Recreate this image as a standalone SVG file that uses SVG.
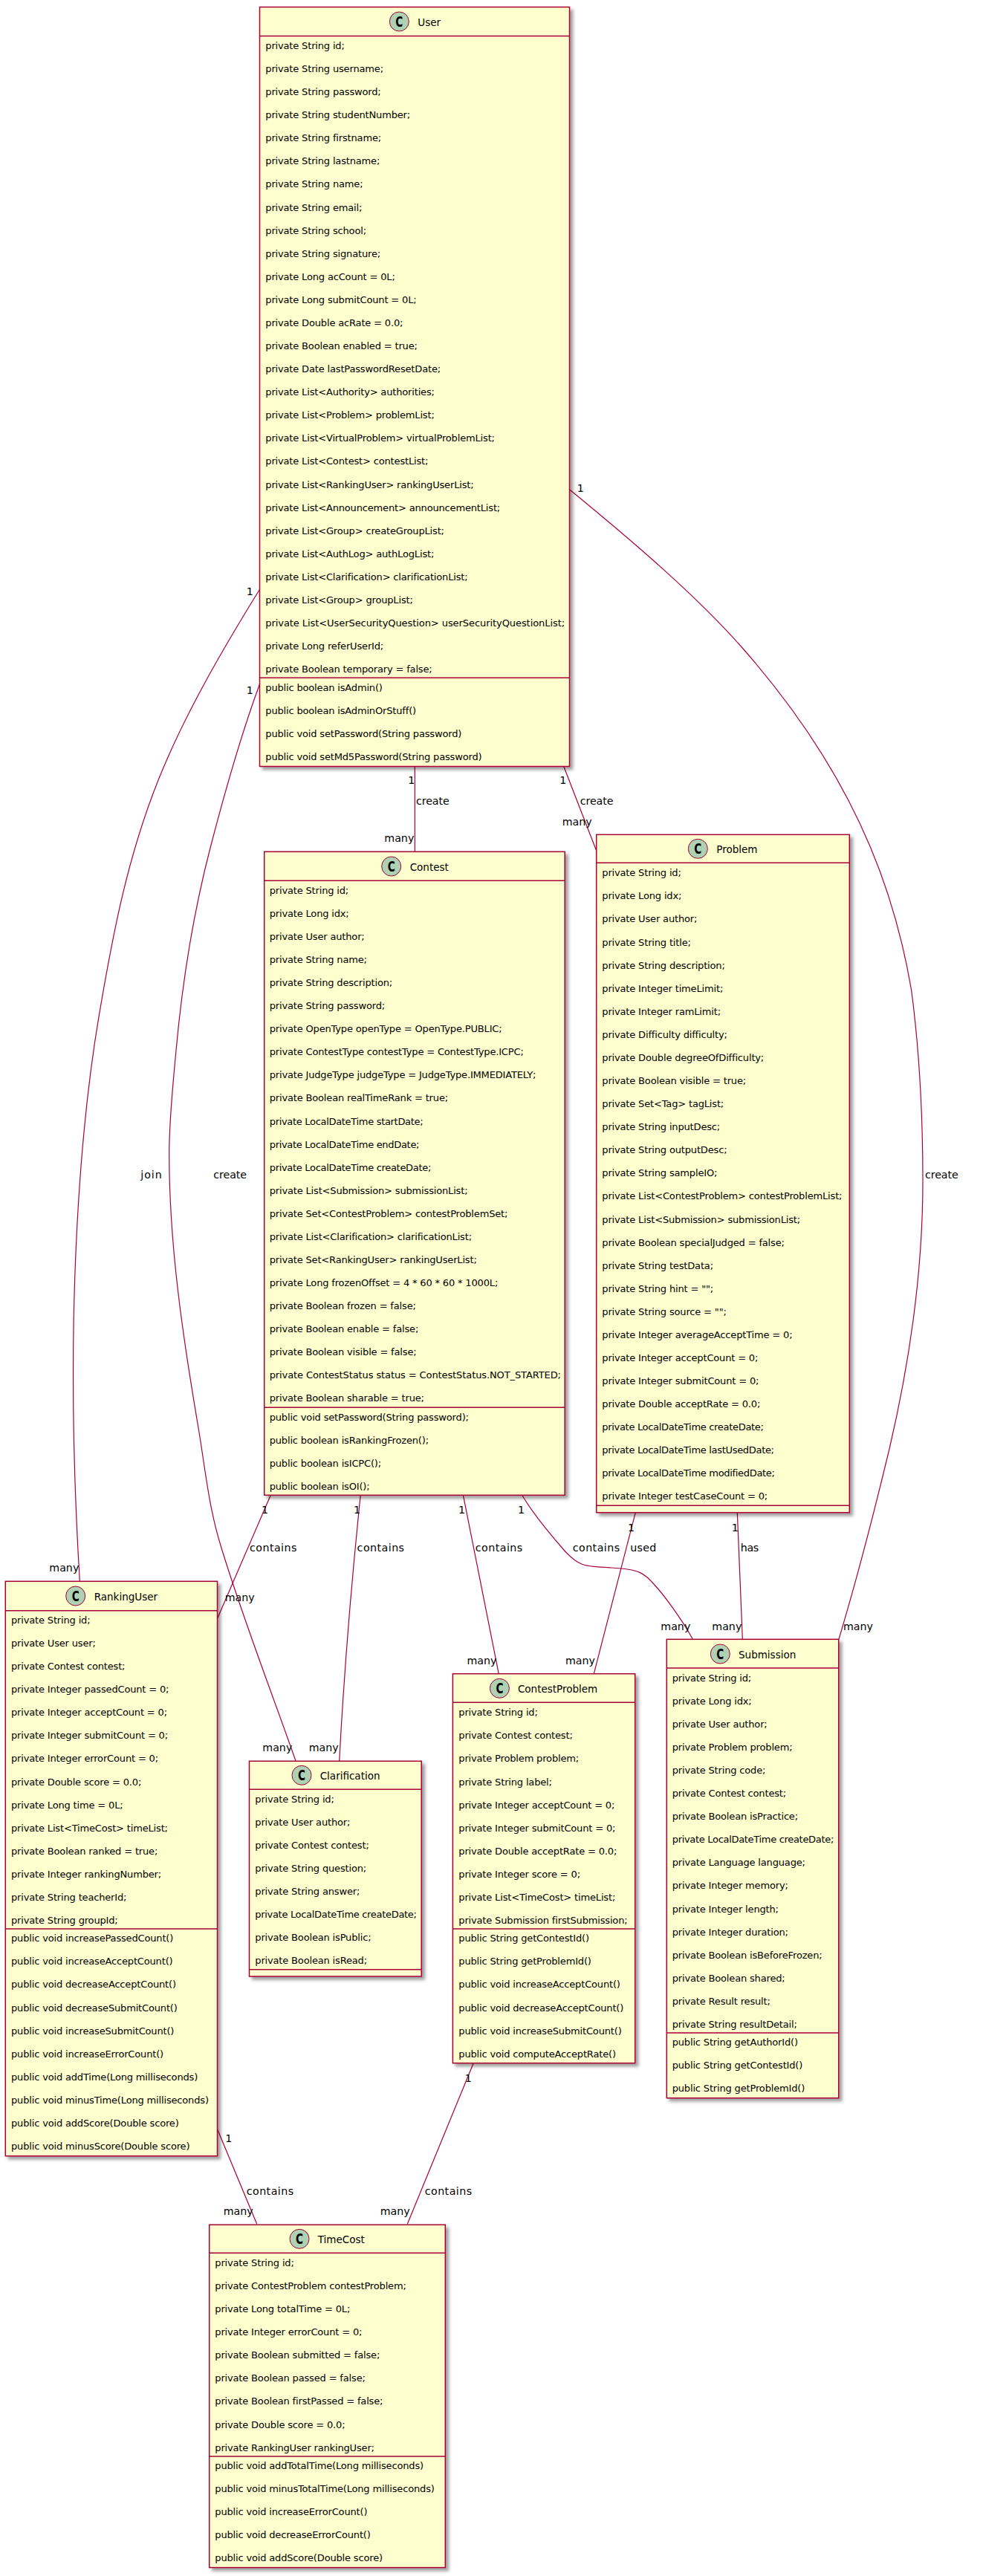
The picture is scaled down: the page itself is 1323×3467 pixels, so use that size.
<svg xmlns="http://www.w3.org/2000/svg" width="1323" height="3467" viewBox="0 0 1323 3467">
<defs>
<filter id="sh" x="-5%" y="-5%" width="115%" height="115%"><feDropShadow dx="4" dy="4" stdDeviation="2" flood-color="#000" flood-opacity="0.38"/></filter>
</defs>
<style>
text{font-family:"DejaVu Sans",sans-serif;fill:#000}
.box{fill:#FEFECE;stroke:#A80036;stroke-width:1.5;filter:url(#sh)}
.sep{stroke:#A80036;stroke-width:1.5;fill:none}
.ci{fill:#ADD1B2;stroke:#A80036;stroke-width:1}
.cl{font-weight:bold;font-size:20px}
.t{font-size:13.5px}
.m{font-size:13px;letter-spacing:-0.16px}
.d{letter-spacing:-0.31px}
.l{font-size:14.2px}
#connectors path{fill:none;stroke:#A80036;stroke-width:1.2}
</style>
<rect width="1323" height="3467" fill="#fff"/>
<g id="connectors">
<path d="M349.5,793.3 C296.5,879 247.2,964.5 213,1050 C170.8,1155.6 151.2,1261.1 133.3,1366.7 C113.3,1484.5 104.8,1602.2 100.7,1720 C95.9,1856 99.1,1992 107.3,2128"/>
<path d="M349.5,920.7 C322.5,993.8 302.3,1066.9 283.3,1140 C259.3,1232.2 245,1324.5 236.7,1416.7 C232.6,1462.1 227.7,1507.6 227.7,1553 C227.7,1675.3 245.9,1797.7 266.7,1920 C275.8,1973.3 280.5,2026.7 297,2080 C326,2176 364.4,2274 398,2370"/>
<path d="M558.3,1031.5 L558.3,1146.3"/>
<path d="M758.7,1031.5 L802.7,1145"/>
<path d="M767,659.3 C853.9,730.5 937.3,801.8 1000,873 C1078.3,962 1134,1051 1171.4,1140 C1198.4,1204.3 1215.8,1268.7 1226.7,1333 C1238,1418.7 1242,1504.3 1242,1590 C1242,1710 1225,1830 1197,1950 C1176.5,2035.3 1154.6,2120.7 1129,2206"/>
<path d="M364.3,2012.3 L292.7,2178"/>
<path d="M485.2,2012.3 C473,2130 462,2270 456.7,2370"/>
<path d="M623.4,2012.3 L671.2,2252.7"/>
<path d="M702.6,2012.3 C716,2035 738,2062 758,2085 S785,2108 823,2110 S866,2117 880,2132 S918,2180 932.3,2206"/>
<path d="M855.3,2035.7 L799.3,2252.7"/>
<path d="M992.3,2035.7 L999.3,2206"/>
<path d="M292.7,2866 L345.7,2993.3"/>
<path d="M637.2,2776.7 L548.3,2993.3"/>
</g>
<g id="User">
<rect class="box" x="349.5" y="9.5" width="417" height="1022"/>
<path class="sep" d="M349.5,48.5H766.5M349.5,912.3H766.5"/>
<circle class="ci" cx="537.3" cy="29" r="13"/>
<text class="cl" x="532.3" y="36" textLength="10" lengthAdjust="spacingAndGlyphs">C</text>
<text class="t" x="562.3" y="34.7">User</text>
<text class="m" y="66"><tspan x="357.3">private String id;</tspan><tspan x="357.3" dy="31.08">private String username;</tspan><tspan x="357.3" dy="31.08">private String password;</tspan><tspan x="357.3" dy="31.08">private String studentNumber;</tspan><tspan x="357.3" dy="31.08">private String firstname;</tspan><tspan x="357.3" dy="31.08">private String lastname;</tspan><tspan x="357.3" dy="31.08">private String name;</tspan><tspan x="357.3" dy="31.08">private String email;</tspan><tspan x="357.3" dy="31.08">private String school;</tspan><tspan x="357.3" dy="31.08">private String signature;</tspan><tspan x="357.3" dy="31.08">private Long acCount = 0L;</tspan><tspan x="357.3" dy="31.08">private Long submitCount = 0L;</tspan><tspan x="357.3" dy="31.08">private Double acRate = 0.0;</tspan><tspan x="357.3" dy="31.08">private Boolean enabled = true;</tspan><tspan x="357.3" dy="31.08">private Date lastPasswordResetDate;</tspan><tspan x="357.3" dy="31.08">private List&lt;Authority&gt; authorities;</tspan><tspan x="357.3" dy="31.08">private List&lt;Problem&gt; problemList;</tspan><tspan x="357.3" dy="31.08">private List&lt;VirtualProblem&gt; virtualProblemList;</tspan><tspan x="357.3" dy="31.08">private List&lt;Contest&gt; contestList;</tspan><tspan x="357.3" dy="31.08">private List&lt;RankingUser&gt; rankingUserList;</tspan><tspan x="357.3" dy="31.08">private List&lt;Announcement&gt; announcementList;</tspan><tspan x="357.3" dy="31.08">private List&lt;Group&gt; createGroupList;</tspan><tspan x="357.3" dy="31.08">private List&lt;AuthLog&gt; authLogList;</tspan><tspan x="357.3" dy="31.08">private List&lt;Clarification&gt; clarificationList;</tspan><tspan x="357.3" dy="31.08">private List&lt;Group&gt; groupList;</tspan><tspan x="357.3" dy="31.08" style="letter-spacing:-0.07px">private List&lt;UserSecurityQuestion&gt; userSecurityQuestionList;</tspan><tspan x="357.3" dy="31.08">private Long referUserId;</tspan><tspan x="357.3" dy="31.08">private Boolean temporary = false;</tspan></text>
<text class="m" y="930"><tspan x="357.3">public boolean isAdmin()</tspan><tspan x="357.3" dy="31.08">public boolean isAdminOrStuff()</tspan><tspan x="357.3" dy="31.08">public void setPassword(String password)</tspan><tspan x="357.3" dy="31.08">public void setMd5Password(String password)</tspan></text>
</g>
<g id="Contest">
<rect class="box" x="355.7" y="1146.3" width="404.5" height="866"/>
<path class="sep" d="M355.7,1185.3H760.2M355.7,1894.3H760.2"/>
<circle class="ci" cx="526.7" cy="1166" r="13"/>
<text class="cl" x="521.7" y="1173" textLength="10" lengthAdjust="spacingAndGlyphs">C</text>
<text class="t" x="551.7" y="1171.7">Contest</text>
<text class="m" y="1202.7"><tspan x="362.7">private String id;</tspan><tspan x="362.7" dy="31.08">private Long idx;</tspan><tspan x="362.7" dy="31.08">private User author;</tspan><tspan x="362.7" dy="31.08">private String name;</tspan><tspan x="362.7" dy="31.08">private String description;</tspan><tspan x="362.7" dy="31.08">private String password;</tspan><tspan x="362.7" dy="31.08">private OpenType openType = OpenType.PUBLIC;</tspan><tspan x="362.7" dy="31.08">private ContestType contestType = ContestType.ICPC;</tspan><tspan x="362.7" dy="31.08">private JudgeType judgeType = JudgeType.IMMEDIATELY;</tspan><tspan x="362.7" dy="31.08">private Boolean realTimeRank = true;</tspan><tspan class="d" x="362.7" dy="31.08">private LocalDateTime startDate;</tspan><tspan class="d" x="362.7" dy="31.08">private LocalDateTime endDate;</tspan><tspan class="d" x="362.7" dy="31.08">private LocalDateTime createDate;</tspan><tspan x="362.7" dy="31.08">private List&lt;Submission&gt; submissionList;</tspan><tspan x="362.7" dy="31.08">private Set&lt;ContestProblem&gt; contestProblemSet;</tspan><tspan x="362.7" dy="31.08">private List&lt;Clarification&gt; clarificationList;</tspan><tspan x="362.7" dy="31.08">private Set&lt;RankingUser&gt; rankingUserList;</tspan><tspan x="362.7" dy="31.08">private Long frozenOffset = 4 * 60 * 60 * 1000L;</tspan><tspan x="362.7" dy="31.08">private Boolean frozen = false;</tspan><tspan x="362.7" dy="31.08">private Boolean enable = false;</tspan><tspan x="362.7" dy="31.08">private Boolean visible = false;</tspan><tspan x="362.7" dy="31.08" style="letter-spacing:-0.1px">private ContestStatus status = ContestStatus.NOT_STARTED;</tspan><tspan x="362.7" dy="31.08">private Boolean sharable = true;</tspan></text>
<text class="m" y="1911.7"><tspan x="362.7">public void setPassword(String password);</tspan><tspan x="362.7" dy="31.08">public boolean isRankingFrozen();</tspan><tspan x="362.7" dy="31.08">public boolean isICPC();</tspan><tspan x="362.7" dy="31.08">public boolean isOI();</tspan></text>
</g>
<g id="Problem">
<rect class="box" x="802.7" y="1123.3" width="340.6" height="912.4"/>
<path class="sep" d="M802.7,1161.3H1143.3M802.7,2026.3H1143.3"/>
<circle class="ci" cx="939.3" cy="1142.3" r="13"/>
<text class="cl" x="934.3" y="1149.3" textLength="10" lengthAdjust="spacingAndGlyphs">C</text>
<text class="t" x="964.3" y="1148.3">Problem</text>
<text class="m" y="1179.3"><tspan x="810.3">private String id;</tspan><tspan x="810.3" dy="31.08">private Long idx;</tspan><tspan x="810.3" dy="31.08">private User author;</tspan><tspan x="810.3" dy="31.08">private String title;</tspan><tspan x="810.3" dy="31.08">private String description;</tspan><tspan x="810.3" dy="31.08">private Integer timeLimit;</tspan><tspan x="810.3" dy="31.08">private Integer ramLimit;</tspan><tspan x="810.3" dy="31.08">private Difficulty difficulty;</tspan><tspan x="810.3" dy="31.08">private Double degreeOfDifficulty;</tspan><tspan x="810.3" dy="31.08">private Boolean visible = true;</tspan><tspan x="810.3" dy="31.08">private Set&lt;Tag&gt; tagList;</tspan><tspan x="810.3" dy="31.08">private String inputDesc;</tspan><tspan x="810.3" dy="31.08">private String outputDesc;</tspan><tspan x="810.3" dy="31.08">private String sampleIO;</tspan><tspan x="810.3" dy="31.08">private List&lt;ContestProblem&gt; contestProblemList;</tspan><tspan x="810.3" dy="31.08">private List&lt;Submission&gt; submissionList;</tspan><tspan x="810.3" dy="31.08">private Boolean specialJudged = false;</tspan><tspan x="810.3" dy="31.08">private String testData;</tspan><tspan x="810.3" dy="31.08">private String hint = "";</tspan><tspan x="810.3" dy="31.08">private String source = "";</tspan><tspan x="810.3" dy="31.08">private Integer averageAcceptTime = 0;</tspan><tspan x="810.3" dy="31.08">private Integer acceptCount = 0;</tspan><tspan x="810.3" dy="31.08">private Integer submitCount = 0;</tspan><tspan x="810.3" dy="31.08">private Double acceptRate = 0.0;</tspan><tspan class="d" x="810.3" dy="31.08">private LocalDateTime createDate;</tspan><tspan class="d" x="810.3" dy="31.08">private LocalDateTime lastUsedDate;</tspan><tspan class="d" x="810.3" dy="31.08">private LocalDateTime modifiedDate;</tspan><tspan x="810.3" dy="31.08">private Integer testCaseCount = 0;</tspan></text>
</g>
<g id="RankingUser">
<rect class="box" x="7.3" y="2128.3" width="285.2" height="773.4"/>
<path class="sep" d="M7.3,2167.7H292.5M7.3,2596H292.5"/>
<circle class="ci" cx="101.7" cy="2148" r="13"/>
<text class="cl" x="96.7" y="2155" textLength="10" lengthAdjust="spacingAndGlyphs">C</text>
<text class="t" x="126.7" y="2154">RankingUser</text>
<text class="m" y="2185"><tspan x="15">private String id;</tspan><tspan x="15" dy="31.08">private User user;</tspan><tspan x="15" dy="31.08">private Contest contest;</tspan><tspan x="15" dy="31.08">private Integer passedCount = 0;</tspan><tspan x="15" dy="31.08">private Integer acceptCount = 0;</tspan><tspan x="15" dy="31.08">private Integer submitCount = 0;</tspan><tspan x="15" dy="31.08">private Integer errorCount = 0;</tspan><tspan x="15" dy="31.08">private Double score = 0.0;</tspan><tspan x="15" dy="31.08">private Long time = 0L;</tspan><tspan x="15" dy="31.08">private List&lt;TimeCost&gt; timeList;</tspan><tspan x="15" dy="31.08">private Boolean ranked = true;</tspan><tspan x="15" dy="31.08">private Integer rankingNumber;</tspan><tspan x="15" dy="31.08">private String teacherId;</tspan><tspan x="15" dy="31.08">private String groupId;</tspan></text>
<text class="m" y="2613.3"><tspan x="15">public void increasePassedCount()</tspan><tspan x="15" dy="31.08">public void increaseAcceptCount()</tspan><tspan x="15" dy="31.08">public void decreaseAcceptCount()</tspan><tspan x="15" dy="31.08">public void decreaseSubmitCount()</tspan><tspan x="15" dy="31.08">public void increaseSubmitCount()</tspan><tspan x="15" dy="31.08">public void increaseErrorCount()</tspan><tspan x="15" dy="31.08">public void addTime(Long milliseconds)</tspan><tspan x="15" dy="31.08">public void minusTime(Long milliseconds)</tspan><tspan x="15" dy="31.08">public void addScore(Double score)</tspan><tspan x="15" dy="31.08">public void minusScore(Double score)</tspan></text>
</g>
<g id="Clarification">
<rect class="box" x="335.5" y="2370.3" width="231.7" height="289.7"/>
<path class="sep" d="M335.5,2408.3H567.2M335.5,2650.7H567.2"/>
<circle class="ci" cx="406" cy="2389.3" r="13"/>
<text class="cl" x="401" y="2396.3" textLength="10" lengthAdjust="spacingAndGlyphs">C</text>
<text class="t" x="430.7" y="2395">Clarification</text>
<text class="m" y="2425.7"><tspan x="343.3">private String id;</tspan><tspan x="343.3" dy="31.08">private User author;</tspan><tspan x="343.3" dy="31.08">private Contest contest;</tspan><tspan x="343.3" dy="31.08">private String question;</tspan><tspan x="343.3" dy="31.08">private String answer;</tspan><tspan class="d" x="343.3" dy="31.08">private LocalDateTime createDate;</tspan><tspan x="343.3" dy="31.08">private Boolean isPublic;</tspan><tspan x="343.3" dy="31.08">private Boolean isRead;</tspan></text>
</g>
<g id="ContestProblem">
<rect class="box" x="609.4" y="2252.7" width="245.3" height="524"/>
<path class="sep" d="M609.4,2291.3H854.7M609.4,2596H854.7"/>
<circle class="ci" cx="672.4" cy="2272.3" r="13"/>
<text class="cl" x="667.4" y="2279.3" textLength="10" lengthAdjust="spacingAndGlyphs">C</text>
<text class="t" x="696.9" y="2278">ContestProblem</text>
<text class="m" y="2309.3"><tspan x="617.3">private String id;</tspan><tspan x="617.3" dy="31.08">private Contest contest;</tspan><tspan x="617.3" dy="31.08">private Problem problem;</tspan><tspan x="617.3" dy="31.08">private String label;</tspan><tspan x="617.3" dy="31.08">private Integer acceptCount = 0;</tspan><tspan x="617.3" dy="31.08">private Integer submitCount = 0;</tspan><tspan x="617.3" dy="31.08">private Double acceptRate = 0.0;</tspan><tspan x="617.3" dy="31.08">private Integer score = 0;</tspan><tspan x="617.3" dy="31.08">private List&lt;TimeCost&gt; timeList;</tspan><tspan x="617.3" dy="31.08">private Submission firstSubmission;</tspan></text>
<text class="m" y="2613.3"><tspan x="617.3">public String getContestId()</tspan><tspan x="617.3" dy="31.08">public String getProblemId()</tspan><tspan x="617.3" dy="31.08">public void increaseAcceptCount()</tspan><tspan x="617.3" dy="31.08">public void decreaseAcceptCount()</tspan><tspan x="617.3" dy="31.08">public void increaseSubmitCount()</tspan><tspan x="617.3" dy="31.08">public void computeAcceptRate()</tspan></text>
</g>
<g id="Submission">
<rect class="box" x="897.3" y="2206.3" width="231.4" height="617.4"/>
<path class="sep" d="M897.3,2245H1128.7M897.3,2736H1128.7"/>
<circle class="ci" cx="969.3" cy="2226" r="13"/>
<text class="cl" x="964.3" y="2233" textLength="10" lengthAdjust="spacingAndGlyphs">C</text>
<text class="t" x="994" y="2232">Submission</text>
<text class="m" y="2262.7"><tspan x="904.7">private String id;</tspan><tspan x="904.7" dy="31.08">private Long idx;</tspan><tspan x="904.7" dy="31.08">private User author;</tspan><tspan x="904.7" dy="31.08">private Problem problem;</tspan><tspan x="904.7" dy="31.08">private String code;</tspan><tspan x="904.7" dy="31.08">private Contest contest;</tspan><tspan x="904.7" dy="31.08">private Boolean isPractice;</tspan><tspan class="d" x="904.7" dy="31.08">private LocalDateTime createDate;</tspan><tspan x="904.7" dy="31.08">private Language language;</tspan><tspan x="904.7" dy="31.08">private Integer memory;</tspan><tspan x="904.7" dy="31.08">private Integer length;</tspan><tspan x="904.7" dy="31.08">private Integer duration;</tspan><tspan x="904.7" dy="31.08">private Boolean isBeforeFrozen;</tspan><tspan x="904.7" dy="31.08">private Boolean shared;</tspan><tspan x="904.7" dy="31.08">private Result result;</tspan><tspan x="904.7" dy="31.08">private String resultDetail;</tspan></text>
<text class="m" y="2753.2"><tspan x="904.7">public String getAuthorId()</tspan><tspan x="904.7" dy="31.08">public String getContestId()</tspan><tspan x="904.7" dy="31.08">public String getProblemId()</tspan></text>
</g>
<g id="TimeCost">
<rect class="box" x="281.7" y="2994.3" width="317.6" height="461.3"/>
<path class="sep" d="M281.7,3032.3H599.3M281.7,3305.9H599.3"/>
<circle class="ci" cx="403" cy="3013.3" r="13"/>
<text class="cl" x="398" y="3020.3" textLength="10" lengthAdjust="spacingAndGlyphs">C</text>
<text class="t" x="427.7" y="3019">TimeCost</text>
<text class="m" y="3050"><tspan x="289.3">private String id;</tspan><tspan x="289.3" dy="31.08">private ContestProblem contestProblem;</tspan><tspan x="289.3" dy="31.08">private Long totalTime = 0L;</tspan><tspan x="289.3" dy="31.08">private Integer errorCount = 0;</tspan><tspan x="289.3" dy="31.08">private Boolean submitted = false;</tspan><tspan x="289.3" dy="31.08">private Boolean passed = false;</tspan><tspan x="289.3" dy="31.08">private Boolean firstPassed = false;</tspan><tspan x="289.3" dy="31.08">private Double score = 0.0;</tspan><tspan x="289.3" dy="31.08">private RankingUser rankingUser;</tspan></text>
<text class="m" y="3323"><tspan x="289.3">public void addTotalTime(Long milliseconds)</tspan><tspan x="289.3" dy="31.08">public void minusTotalTime(Long milliseconds)</tspan><tspan x="289.3" dy="31.08">public void increaseErrorCount()</tspan><tspan x="289.3" dy="31.08">public void decreaseErrorCount()</tspan><tspan x="289.3" dy="31.08">public void addScore(Double score)</tspan></text>
</g>
<g id="edge-labels">
<text class="l" x="331.7" y="801">1</text><text class="l" x="66.3" y="2115" textLength="40">many</text><text class="l" x="189.3" y="1585.7" textLength="28.4">join</text>
<text class="l" x="331.7" y="934">1</text><text class="l" x="353.3" y="2357" textLength="40">many</text><text class="l" x="287.3" y="1585.7" textLength="44.7">create</text>
<text class="l" x="549.3" y="1055">1</text><text class="l" x="560" y="1083.3" textLength="44.7">create</text><text class="l" x="517.3" y="1133" textLength="40">many</text>
<text class="l" x="753.3" y="1055">1</text><text class="l" x="780.7" y="1083.3" textLength="44.7">create</text><text class="l" x="756.7" y="1111" textLength="40">many</text>
<text class="l" x="776.8" y="661.7">1</text><text class="l" x="1245" y="1585.7" textLength="44.7">create</text><text class="l" x="1135" y="2194" textLength="40">many</text>
<text class="l" x="352" y="2037">1</text><text class="l" x="336" y="2088.3" textLength="63.4">contains</text><text class="l" x="302.7" y="2155" textLength="40">many</text>
<text class="l" x="476" y="2037">1</text><text class="l" x="480.6" y="2088.3" textLength="63.4">contains</text><text class="l" x="415.7" y="2357" textLength="40">many</text>
<text class="l" x="616.9" y="2037">1</text><text class="l" x="639.8" y="2088.3" textLength="63.4">contains</text><text class="l" x="628.4" y="2240" textLength="40">many</text>
<text class="l" x="696.9" y="2037">1</text><text class="l" x="770.7" y="2088.3" textLength="63.4">contains</text><text class="l" x="889.3" y="2194" textLength="40">many</text>
<text class="l" x="845" y="2061">1</text><text class="l" x="848.3" y="2088.3" textLength="35">used</text><text class="l" x="761" y="2240" textLength="40">many</text>
<text class="l" x="984.7" y="2061">1</text><text class="l" x="996.7" y="2088.3" textLength="24.5">has</text><text class="l" x="958.3" y="2194" textLength="40">many</text>
<text class="l" x="303.3" y="2882.7">1</text><text class="l" x="331.7" y="2954" textLength="63.4">contains</text><text class="l" x="300.7" y="2981" textLength="40">many</text>
<text class="l" x="625.7" y="2801.7">1</text><text class="l" x="571.7" y="2954" textLength="63.4">contains</text><text class="l" x="511.7" y="2981" textLength="40">many</text>
</g>
</svg>
